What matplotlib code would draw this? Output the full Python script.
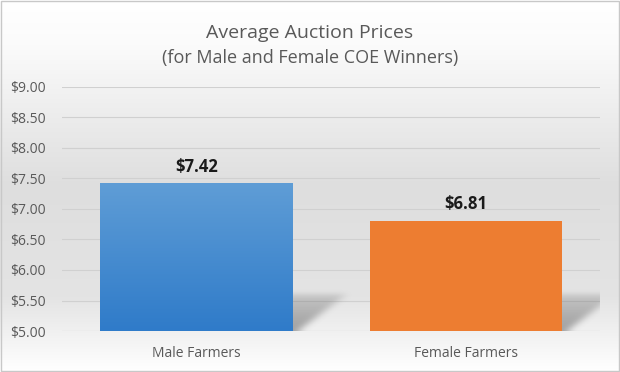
import numpy as np
import matplotlib.pyplot as plt
from matplotlib.colors import LinearSegmentedColormap
from matplotlib.ticker import FuncFormatter

categories = ["Male Farmers", "Female Farmers"]
prices = [7.42, 6.81]
y_ticks = [5.0, 5.5, 6.0, 6.5, 7.0, 7.5, 8.0, 8.5, 9.0]

plt.rcParams['font.family'] = ['Open Sans', 'DejaVu Sans']

fig = plt.figure(figsize=(6.2, 3.72), dpi=100)

# background gradient for the whole chart
bg = fig.add_axes([0, 0, 1, 1], zorder=-10)
bg_cmap = LinearSegmentedColormap.from_list(
    "bg", [(0, "#ffffff"), (0.12, "#fbfbfb"), (0.5, "#dedede"),
           (0.8, "#e4e4e4"), (1.0, "#ffffff")])
bg.imshow(np.linspace(0, 1, 256).reshape(-1, 1), aspect="auto", cmap=bg_cmap,
          extent=[0, 1, 0, 1])
bg.set_xlim(0, 1)
bg.set_ylim(0, 1)
bg.axis("off")
bg.add_patch(plt.Rectangle((0.0015, 0.0025), 0.997, 0.995, fill=False,
                           edgecolor="#c8c8c8", lw=1.0))

ax = fig.add_axes([0.1, 0.1102, 0.868, 0.656])
ax.set_facecolor("none")

x = np.arange(len(categories))
width = 0.714
ymin = 5.0

# blue bar with vertical gradient, orange bar flat
blue_cmap = LinearSegmentedColormap.from_list("blue", ["#2f7bc9", "#5f9dd6"])
bars = ax.bar(x, np.array(prices) - ymin, width, bottom=ymin,
              color=["none", "#ed7d31"], zorder=3)
b0 = bars[0]
im = ax.imshow(np.linspace(0, 1, 256).reshape(-1, 1), aspect="auto",
               cmap=blue_cmap, origin="lower",
               extent=[b0.get_x(), b0.get_x() + width, ymin, prices[0]],
               zorder=3)
im.set_clip_path(b0)


def box_blur(a, r):
    k = np.ones(2 * r + 1) / (2 * r + 1)
    a = np.pad(a, r, mode="edge")
    a = np.apply_along_axis(lambda m: np.convolve(m, k, mode="same"), 0, a)
    a = np.apply_along_axis(lambda m: np.convolve(m, k, mode="same"), 1, a)
    return a[r:-r, r:-r]


# soft skewed shadows behind the lower right of each bar
sw, sh_h = 0.28, 0.8
ny, nx = 100, 100
gx = np.linspace(-0.02, sw, nx)[None, :]
gy = np.linspace(sh_h, 0, ny)[:, None]  # row 0 = top
edge = 0.02 + (gy / 0.6) * 0.18
mask = ((gx < edge) & (gy < 0.6)).astype(float)
mask = mask * np.clip(1 - gy / 0.75, 0, 1) ** 0.6
mask = box_blur(box_blur(mask, 6), 5)
for xi in x:
    xr = xi + width / 2
    img = np.zeros((ny, nx, 4))
    img[..., :3] = 0.42
    img[..., 3] = 0.6 * mask
    ax.imshow(img, aspect="auto", origin="upper",
              extent=[xr - 0.02, xr + sw, ymin, ymin + sh_h], zorder=2)

for xi, p in zip(x, prices):
    ax.text(xi, p + 0.12, f"${p:.2f}", ha="center", va="bottom",
            fontsize=12, fontweight="bold", color="#1a1a1a", zorder=4)

ax.set_xlim(-0.5, 1.5)
ax.set_ylim(5.0, 9.0)
ax.set_yticks(y_ticks)
ax.yaxis.set_major_formatter(FuncFormatter(lambda v, _: f"${v:.2f}"))
ax.set_xticks(x)
ax.set_xticklabels(categories)
ax.tick_params(axis="both", length=0, labelsize=10, colors="#595959")
ax.tick_params(axis="y", pad=12)
ax.tick_params(axis="x", pad=11)
ax.grid(axis="y", color="#d0d0d0", lw=0.8, zorder=0)
for s in ax.spines.values():
    s.set_visible(False)
ax.axhline(5.0, color="#d0d0d0", lw=0.8, zorder=1)

fig.text(0.5, 0.911, "Average Auction Prices", ha="center", va="center",
         fontsize=14, color="#595959")
fig.text(0.5, 0.845, "(for Male and Female COE Winners)", ha="center",
         va="center", fontsize=13, color="#595959")

fig.savefig("out.png", dpi=100)
